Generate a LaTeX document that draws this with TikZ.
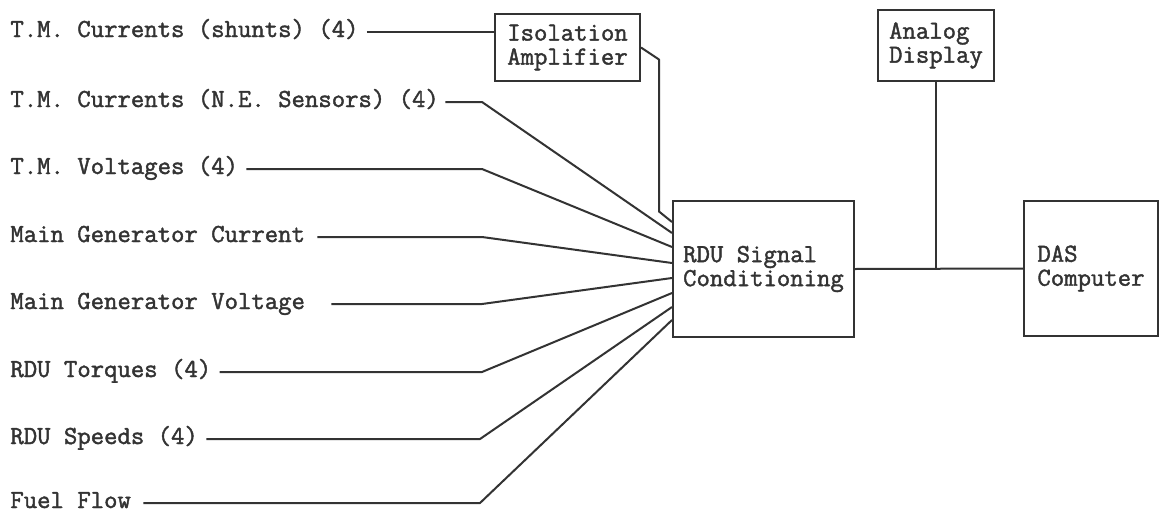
\documentclass[tikz,border=0pt]{standalone}
\usepackage{fontspec}
\setmonofont{Latin Modern Mono}[AutoFakeBold=1.6]
\usetikzlibrary{calc}
\definecolor{ink}{HTML}{333333}
\begin{document}
\begin{tikzpicture}[
		x=0.5pt, y=-0.5pt,
		font=\ttfamily\bfseries\fontsize{13pt}{12pt}\selectfont,
		box/.style={draw=ink, line width=1pt, anchor=north west, align=left, inner sep=0pt, text=ink},
		lbl/.style={anchor=west, inner sep=0pt, text height=7pt, text depth=2pt, text=ink},
		wire/.style={draw=ink, line width=1pt, line join=round}
		]
		\useasboundingbox[fill=white] (0,0) rectangle (1161,514);
		
		% =========================
		% Blocks
		% =========================
		\node[box, minimum width=72.5pt, minimum height=33.5pt] (iso) at (494,13) {Isolation\\Amplifier};
		\node[box, minimum width=58pt, minimum height=35.5pt] (ana) at (877,9) {Analog\\Display};
		\node[box, minimum width=90.5pt, minimum height=68pt] (rdu) at (672,200) {\mbox{RDU Signal}\\Conditioning};
		\node[box, minimum width=67pt, minimum height=67.5pt] (das) at (1023,200) {DAS\\Computer};
		
		% =========================
		% Measured signals
		% =========================
		\node[lbl] (shunt) at (10,32) {T.M. Currents (shunts) (4)};
		\node[lbl] (nesens) at (10,102) {T.M. Currents (N.E. Sensors) (4)};
		\node[lbl] (tmvolt) at (10,169) {T.M. Voltages (4)};
		\node[lbl] (gencur) at (10,237) {Main Generator Current};
		\node[lbl] (genvolt) at (10,304) {Main Generator Voltage};
		\node[lbl] (torque) at (10,372) {RDU Torques (4)};
		\node[lbl] (speed) at (10,439) {RDU Speeds (4)};
		\node[lbl] (fuel) at (10,503) {Fuel Flow};
		
		% =========================
		% Wires into the signal conditioning
		% =========================
		\draw[wire] ([xshift=4pt]shunt.east) -- (shunt.east -| iso.west);
		\draw[wire] (iso.east) -- ++(18,12) -- ++(0,152) -- ($(rdu.north west)+(0,22)$);
		
		\draw[wire] ([xshift=3pt]nesens.east) -- (482,102) -- ($(rdu.north west)+(0,33)$);
		\draw[wire] ([xshift=4pt]tmvolt.east) -- (482,169) -- ($(rdu.north west)+(0,47)$);
		\draw[wire] ([xshift=6pt]gencur.east) -- (482,237) -- ($(rdu.north west)+(0,63)$);
		\draw[wire] ([xshift=13pt]genvolt.east) -- (482,304) -- ($(rdu.north west)+(0,78)$);
		\draw[wire] ([xshift=4pt]torque.east) -- (482,372) -- ($(rdu.north west)+(0,93)$);
		\draw[wire] ([xshift=4pt]speed.east) -- (480,439) -- ($(rdu.north west)+(0,107)$);
		\draw[wire] ([xshift=6pt]fuel.east) -- (480,503) -- ($(rdu.north west)+(0,120)$);
		
		% =========================
		% Outputs
		% =========================
		\draw[wire] (rdu.east) -- (das.west);
		\draw[wire] (ana.south) -- (ana.south |- rdu.east);
		
	\end{tikzpicture}
\end{document}
